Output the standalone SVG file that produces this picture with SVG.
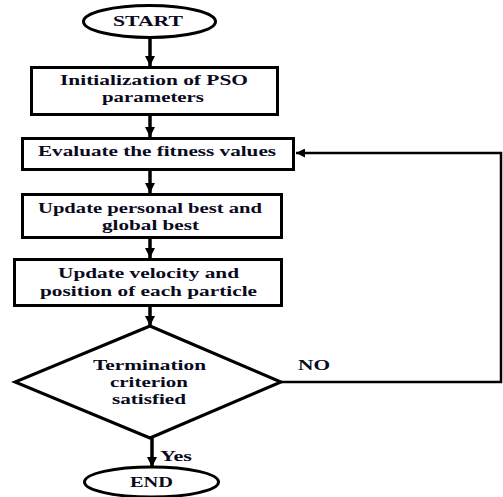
<svg xmlns="http://www.w3.org/2000/svg" width="503" height="497" viewBox="0 0 503 497">
<style>
.s{fill:#fff;stroke:#000;stroke-width:3}
text{font-family:'Liberation Serif','DejaVu Serif',serif;font-weight:bold;font-size:15.5px;fill:#0a0a1e;text-anchor:middle}
.c{fill:none;stroke:#000;stroke-width:3.5}
.l{fill:none;stroke:#000;stroke-width:2.5}
</style>
<defs>
<marker id="ah" viewBox="0 0 10 10" refX="10" refY="5" markerWidth="3" markerHeight="3" markerUnits="strokeWidth" orient="auto">
<path d="M0,0 L10,5 L0,10 z" fill="#000"/>
</marker>
<marker id="ah2" viewBox="0 0 10 10" refX="10" refY="5" markerWidth="3.6" markerHeight="3.6" markerUnits="strokeWidth" orient="auto">
<path d="M0,0 L10,5 L0,10 z" fill="#000"/>
</marker>
</defs>
<rect width="503" height="497" fill="#fff"/>
<g id="connectors">
<line class="c" x1="150" y1="38" x2="150" y2="66" marker-end="url(#ah)"/>
<line class="c" x1="150" y1="116" x2="150" y2="137" marker-end="url(#ah)"/>
<line class="c" x1="150" y1="171" x2="150" y2="193" marker-end="url(#ah)"/>
<line class="c" x1="150" y1="239" x2="150" y2="258" marker-end="url(#ah)"/>
<line class="c" x1="150" y1="307" x2="150" y2="326" marker-end="url(#ah)"/>
<line class="c" x1="152" y1="438" x2="152" y2="467" marker-end="url(#ah)"/>
<polyline class="l" points="281,382 501,382 501,153 296,153" marker-end="url(#ah2)"/>
<text x="314" y="370" textLength="32" lengthAdjust="spacingAndGlyphs">NO</text>
<text x="176" y="461" textLength="32" lengthAdjust="spacingAndGlyphs">Yes</text>
</g>
<g id="start">
<ellipse class="s" cx="149.5" cy="21.5" rx="66" ry="16"/>
<text x="148" y="26" textLength="70" lengthAdjust="spacingAndGlyphs">START</text>
</g>
<g id="init">
<rect class="s" x="31.5" y="67.5" width="246" height="47"/>
<text x="154" y="85" textLength="188" lengthAdjust="spacingAndGlyphs">Initialization of PSO</text>
<text x="153" y="102" textLength="102" lengthAdjust="spacingAndGlyphs">parameters</text>
</g>
<g id="evaluate">
<rect class="s" x="22.5" y="138.5" width="271" height="31"/>
<text x="157" y="156" textLength="238" lengthAdjust="spacingAndGlyphs">Evaluate the fitness values</text>
</g>
<g id="update-best">
<rect class="s" x="22.5" y="194.5" width="259" height="43"/>
<text x="150" y="213" textLength="224" lengthAdjust="spacingAndGlyphs">Update personal best and</text>
<text x="150.5" y="230" textLength="97" lengthAdjust="spacingAndGlyphs">global best</text>
</g>
<g id="update-velocity">
<rect class="s" x="14.5" y="259.5" width="267" height="46"/>
<text x="148.5" y="278" textLength="181" lengthAdjust="spacingAndGlyphs">Update velocity and</text>
<text x="148.5" y="296" textLength="217" lengthAdjust="spacingAndGlyphs">position of each particle</text>
</g>
<g id="decision">
<polygon class="s" points="150,326 281,382 150,438 15,382"/>
<text x="149.5" y="370" textLength="113" lengthAdjust="spacingAndGlyphs">Termination</text>
<text x="149" y="387" textLength="78" lengthAdjust="spacingAndGlyphs">criterion</text>
<text x="149" y="404" textLength="74" lengthAdjust="spacingAndGlyphs">satisfied</text>
</g>
<g id="end">
<ellipse class="s" cx="151.5" cy="482" rx="67" ry="15"/>
<text x="151.5" y="487" textLength="43" lengthAdjust="spacingAndGlyphs">END</text>
</g>
</svg>
